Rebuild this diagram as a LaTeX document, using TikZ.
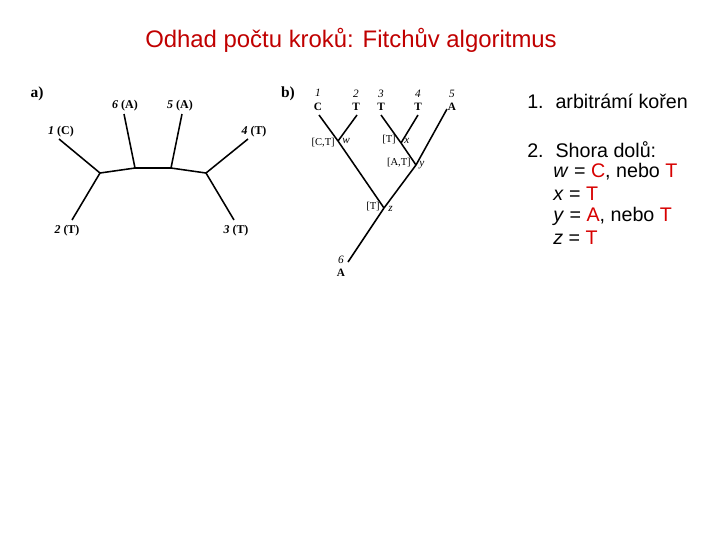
\documentclass[tikz,border=0pt]{standalone}
\usepackage{fontspec}
\setmainfont{Liberation Serif}
\setsansfont{Liberation Sans}
\usetikzlibrary{positioning}
\definecolor{titlered}{RGB}{192,0,0}
\definecolor{ansred}{RGB}{215,0,0}
\tikzstyle{branch} = [draw,line width=1.1pt]
\tikzstyle{leaflabel} = [font=\fontsize{8.5}{9.5}\selectfont\bfseries, inner sep=0pt]
\tikzstyle{tiplabel} = [font=\fontsize{8}{9.5}\selectfont, align=center, inner sep=0pt]
\tikzstyle{statelabel} = [font=\fontsize{7.5}{9}\selectfont, inner sep=0pt]
\tikzstyle{innerlabel} = [font=\fontsize{8}{9}\selectfont\itshape, inner sep=0pt]
\tikzstyle{partlabel} = [font=\fontsize{11}{12}\selectfont\bfseries, inner sep=0pt]
\tikzstyle{stepline} = [font=\sffamily\fontsize{14}{16}\selectfont, anchor=west, inner sep=0pt]

\begin{document}
\begin{tikzpicture}[x=0.025cm, y=-0.025cm]
    \useasboundingbox (0,0) rectangle (720,540);

    \node[font=\sffamily\fontsize{17}{20}\selectfont, text=titlered] (title) at (351,40) {Odhad počtu kroků: Fitchův algoritmus};

    % a) unrooted tree
    \node[partlabel] (pa) at (37,94) {a)};
    \foreach \pos/\nm in {{(59,139)/a1}, {(72,220)/a2}, {(234,220)/a3}, {(248,139)/a4},
                          {(182,114)/a5}, {(124,114)/a6},
                          {(100,173)/ap}, {(135,168)/aq}, {(171,168)/ar}, {(206,173)/as}}
        \node[coordinate] (\nm) at \pos {};
    \foreach \src/\dst in {a1/ap, a2/ap, ap/aq, aq/a6, aq/ar, ar/a5, ar/as, as/a4, as/a3}
        \path[branch] (\src) -- (\dst);

    \node[leaflabel] (la1) at (61,132) {\textit{1} (C)};
    \node[leaflabel] (la2) at (67,231) {\textit{2} (T)};
    \node[leaflabel] (la3) at (236,231) {\textit{3} (T)};
    \node[leaflabel] (la4) at (254,132) {\textit{4} (T)};
    \node[leaflabel] (la5) at (180,106) {\textit{5} (A)};
    \node[leaflabel] (la6) at (125,106) {\textit{6} (A)};

    % b) rooted tree
    \node[partlabel] (pb) at (288,94) {b)};
    \foreach \pos/\nm in {{(319,115)/b1}, {(357,115)/b2}, {(381,115)/b3}, {(418,115)/b4},
                          {(447,109)/b5}, {(348,262)/b6},
                          {(338,141)/nw}, {(401,143)/nx}, {(416,165)/ny}, {(384,208)/nz}}
        \node[coordinate] (\nm) at \pos {};
    \foreach \src/\dst in {b1/nw, b2/nw, nw/nz, b3/nx, b4/nx, nx/ny, b5/ny, ny/nz, nz/b6}
        \path[branch] (\src) -- (\dst);

    \foreach \pos/\num/\base in {{(318,100)/1/C}, {(356,100)/2/T}, {(381,100)/3/T},
                                 {(418,100)/4/T}, {(452,100)/5/A}}
        \node[tiplabel] (t\num) at \pos {\textit{\num}\\ \textbf{\base}};
    \node[tiplabel] (t6) at (341,266) {\textit{6}\\ \textbf{A}};

    \node[statelabel, anchor=east] (sw) at (335,143) {[C,T]};
    \node[innerlabel, anchor=west] (iw) at (342,141) {w};
    \node[statelabel, anchor=east] (sx) at (396,140) {[T]};
    \node[innerlabel, anchor=west] (ix) at (404,141) {x};
    \node[statelabel, anchor=east] (sy) at (411,163) {[A,T]};
    \node[innerlabel, anchor=west] (iy) at (419,165) {y};
    \node[statelabel, anchor=east] (sz) at (380,207) {[T]};
    \node[innerlabel, anchor=west] (iz) at (388,209) {z};

    % steps
    \node[stepline] (n1) at (527,101) {1.\hspace{0.6em}arbitrámí kořen};
    \node[stepline] (n2) at (527,150) {2.\hspace{0.6em}Shora dolů:};
    \node[stepline] (w1) at (553,172) {\textit{w} = \textcolor{ansred}{C}, nebo \textcolor{ansred}{T}};
    \node[stepline] (x1) at (553,194) {\textit{x} = \textcolor{ansred}{T}};
    \node[stepline] (y1) at (553,216) {\textit{y} = \textcolor{ansred}{A}, nebo \textcolor{ansred}{T}};
    \node[stepline] (z1) at (553,238) {\textit{z} = \textcolor{ansred}{T}};
\end{tikzpicture}
\end{document}
